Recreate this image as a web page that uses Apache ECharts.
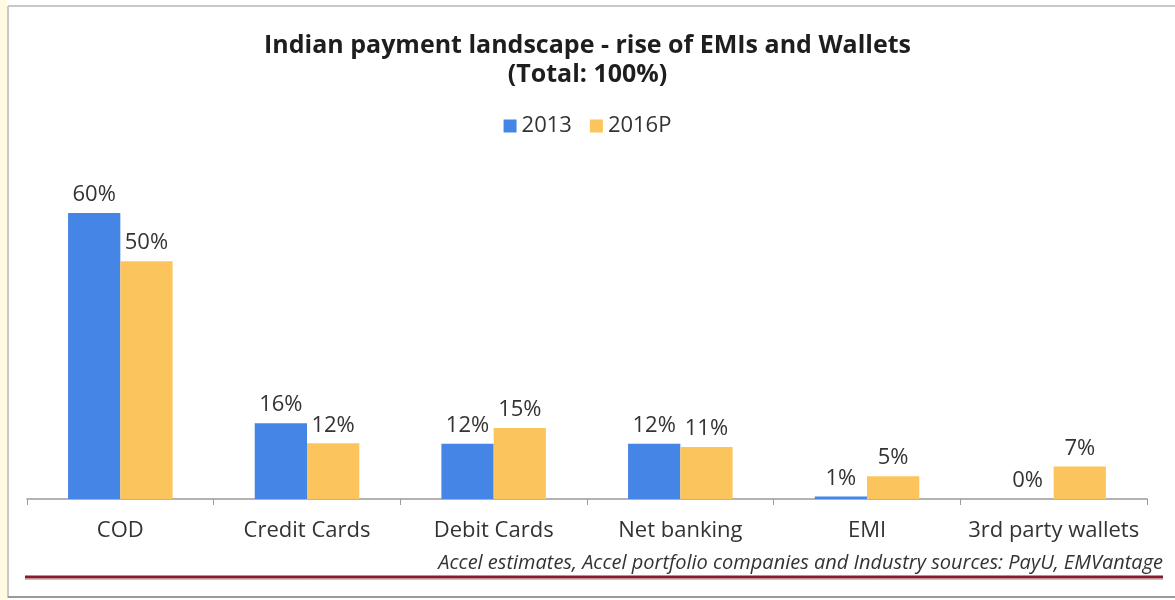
<!DOCTYPE html>
<html>
<head>
<meta charset="utf-8">
<script src="https://cdn.jsdelivr.net/npm/echarts@6/dist/echarts.min.js"></script>
<style>
html,body{margin:0;padding:0;background:#fff;}
#chart{width:1175px;height:600px;}
</style>
</head>
<body>
<div id="chart"></div>
<script>
const categories = ["COD", "Credit Cards", "Debit Cards", "Net banking", "EMI", "3rd party wallets"];
const values2013 = [60, 15.9, 11.6, 11.6, 0.5, 0];
const values2016P = [49.9, 11.7, 14.9, 10.9, 4.8, 6.8];
const seriesNames = ["2013", "2016P"];
const titleText = "Indian payment landscape - rise of EMIs and Wallets\n(Total: 100%)";
const sourceText = "Accel estimates, Accel portfolio companies and Industry sources: PayU, EMVantage";

const FONT = "'Open Sans', Lato, sans-serif";
const chart = echarts.init(document.getElementById('chart'), null, {renderer: 'canvas'});

const labelCfg = {
  show: true,
  position: 'top',
  distance: 7,
  color: '#333',
  fontSize: 22,
  fontFamily: FONT,
  formatter: p => Math.round(p.value) + '%'
};

chart.setOption({
  animation: false,
  backgroundColor: '#fff',
  title: {
    text: titleText,
    left: 'center',
    top: 26,
    textStyle: {fontFamily: FONT, fontWeight: 'bold', fontSize: 25, color: '#1e1e1e', lineHeight: 29}
  },
  legend: {
    data: seriesNames,
    top: 110,
    left: 'center',
    itemWidth: 13,
    itemHeight: 13,
    itemGap: 18,
    icon: 'rect',
    textStyle: {fontFamily: FONT, fontSize: 22, color: '#333'}
  },
  grid: {left: 27, right: 28, top: 194, bottom: 101, containLabel: false},
  xAxis: {
    type: 'category',
    data: categories,
    axisLine: {lineStyle: {color: '#9a9a9a', width: 1.5}},
    axisTick: {show: true, length: 6, inside: false, lineStyle: {color: '#9a9a9a'}},
    axisLabel: {interval: 0, fontFamily: FONT, fontSize: 22, color: '#333', margin: 21}
  },
  yAxis: {
    type: 'value',
    min: 0,
    max: 64,
    show: false,
    splitLine: {show: false}
  },
  series: [
    {
      name: seriesNames[0],
      type: 'bar',
      data: values2013,
      barGap: '0%',
      barCategoryGap: '44%',
      itemStyle: {color: '#4485e6'},
      label: labelCfg
    },
    {
      name: seriesNames[1],
      type: 'bar',
      data: values2016P,
      barGap: '0%',
      barCategoryGap: '44%',
      itemStyle: {color: '#fcc45d'},
      label: labelCfg
    }
  ],
  graphic: [
    {type: 'rect', shape: {x: 0, y: 0, width: 7, height: 600}, style: {fill: '#fffbe3'}, silent: true},
    {type: 'line', shape: {x1: 8, y1: 6, x2: 1175, y2: 6}, style: {stroke: '#c8c8c8', lineWidth: 2}, silent: true},
    {type: 'line', shape: {x1: 8, y1: 6, x2: 8, y2: 598}, style: {stroke: '#c8c8c8', lineWidth: 2}, silent: true},
    {type: 'line', shape: {x1: 8, y1: 597, x2: 1175, y2: 597}, style: {stroke: '#9a9a9a', lineWidth: 2}, silent: true},
    {type: 'line', shape: {x1: 25, y1: 577, x2: 1163, y2: 577}, style: {stroke: '#861d2c', lineWidth: 3}, silent: true},
    {type: 'line', shape: {x1: 25, y1: 579.5, x2: 1163, y2: 579.5}, style: {stroke: '#d9b9bd', lineWidth: 1}, silent: true},
    {
      type: 'text',
      right: 12,
      top: 553,
      style: {text: sourceText, fontFamily: FONT, fontStyle: 'italic', fontSize: 20, fill: '#333'},
      silent: true
    }
  ]
});
</script>
</body>
</html>
